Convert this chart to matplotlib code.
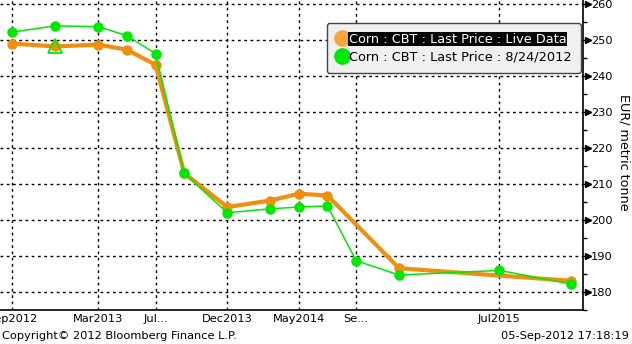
import matplotlib
matplotlib.use("Agg")
import matplotlib.pyplot as plt
import matplotlib.transforms as mtransforms
from matplotlib.lines import Line2D
import pandas as pd

# ---- data ----
live_months = ["2012-09", "2012-12", "2013-03", "2013-05", "2013-07", "2013-09",
               "2013-12", "2014-03", "2014-05", "2014-07", "2014-12", "2015-12"]
live_values = [249.0, 248.2, 248.7, 247.3, 243.1, 213.0,
               203.6, 205.4, 207.3, 206.8, 186.6, 183.1]

hist_months = ["2012-09", "2012-12", "2013-03", "2013-05", "2013-07", "2013-09",
               "2013-12", "2014-03", "2014-05", "2014-07", "2014-09", "2014-12",
               "2015-07", "2015-12"]
hist_values = [252.2, 253.9, 253.7, 251.2, 246.2, 213.0,
               202.0, 203.1, 203.6, 203.9, 188.7, 184.7,
               186.0, 182.2]

marker_month = "2012-12"
marker_value = 248.2

tick_months = ["2012-09", "2013-03", "2013-07", "2013-12", "2014-05", "2014-09", "2015-07"]
tick_labels = ["Sep2012", "Mar2013", "Jul...", "Dec2013", "May2014", "Se...", "Jul2015"]

y_ticks = [180, 190, 200, 210, 220, 230, 240, 250, 260]
legend_labels = ["Corn : CBT : Last Price : Live Data", "Corn : CBT : Last Price : 8/24/2012"]

base = pd.Period("2012-09", freq="M")
def mi(s):
    return (pd.Period(s, freq="M") - base).n

lx = [mi(m) for m in live_months]
hx = [mi(m) for m in hist_months]
tx = [mi(m) for m in tick_months]

ORANGE = "#ef8f10"
ORANGE_L = "#f7a838"
GREEN = "#00e800"

plt.rcParams['font.family'] = ['DejaVu Sans']

fig = plt.figure(figsize=(6.32, 3.44), dpi=100)
ax = fig.add_axes([0.0, 34/344, 582.5/632, 310/344])

ax.plot(lx, live_values, color=ORANGE, lw=3.0, marker='o', ms=6.5,
        markerfacecolor=ORANGE, markeredgecolor=ORANGE, zorder=3, solid_capstyle='round')
ax.plot(hx, hist_values, color=GREEN, lw=1.1, marker='o', ms=6.5,
        markerfacecolor=GREEN, markeredgecolor=GREEN, zorder=4)
ax.plot([mi(marker_month)], [marker_value], marker='^', ms=10, markerfacecolor='none',
        markeredgecolor=GREEN, markeredgewidth=1.3, linestyle='none', zorder=5)

ax.set_xlim(-0.86, 39.8)
ax.set_ylim(175.6, 261.1)

ax.set_xticks(tx)
ax.set_xticklabels(tick_labels, fontsize=8.2)
ax.tick_params(axis='x', length=0, pad=3)

ax.yaxis.tick_right()
ax.set_yticks(y_ticks)
ax.set_yticklabels([str(v) for v in y_ticks], fontsize=8.2)
ax.set_yticks([v + 5 for v in y_ticks[:-1]] + [175], minor=True)
ax.tick_params(axis='y', which='major', length=5.8, width=1, pad=0.5, direction='out')
ax.tick_params(axis='y', which='minor', length=3, width=1, direction='out')

# arrow-head tick marks
trans = mtransforms.blended_transform_factory(ax.transAxes, ax.transData)
ax.plot([1.0 + 5/582.5] * len(y_ticks), y_ticks, linestyle='none', marker='>', ms=5,
        color='black', transform=trans, clip_on=False, zorder=6)

ax.grid(True, which='major', color='black', linestyle=(0, (2, 2.5)), linewidth=1.0)

for s in ['top', 'left']:
    ax.spines[s].set_visible(False)
ax.spines['right'].set_linewidth(1.2)
ax.spines['bottom'].set_linewidth(1.2)

ax.yaxis.set_label_position('right')
ax.set_ylabel("EUR/ metric tonne", rotation=-90, fontsize=9.2)
ax.yaxis.set_label_coords(1.082, 0.51)

handles = [Line2D([], [], marker='o', linestyle='none', ms=11, markerfacecolor=ORANGE_L,
                  markeredgecolor=ORANGE_L),
           Line2D([], [], marker='o', linestyle='none', ms=11, markerfacecolor=GREEN,
                  markeredgecolor=GREEN)]
leg = ax.legend(handles, legend_labels, loc='upper left', bbox_to_anchor=(0.561, 0.926),
                fontsize=9.3, frameon=True, fancybox=True, framealpha=1.0,
                facecolor='#f0f0f0', edgecolor='#444444', handlelength=0.9,
                handletextpad=0.05, borderpad=0.75, labelspacing=0.35, borderaxespad=0)
leg.get_frame().set_linewidth(1.0)
t0 = leg.get_texts()[0]
t0.set_color('white')
t0.set_bbox(dict(facecolor='black', edgecolor='none', pad=0.5))
leg.set_zorder(10)

fig.text(2/632, 8/344, "Copyright\u00a9 2012 Bloomberg Finance L.P.", fontsize=8.2,
         ha='left', va='center')
fig.text(629/632, 8/344, "05-Sep-2012 17:18:19", fontsize=8.2, ha='right', va='center')

fig.savefig("out.png", dpi=100)
